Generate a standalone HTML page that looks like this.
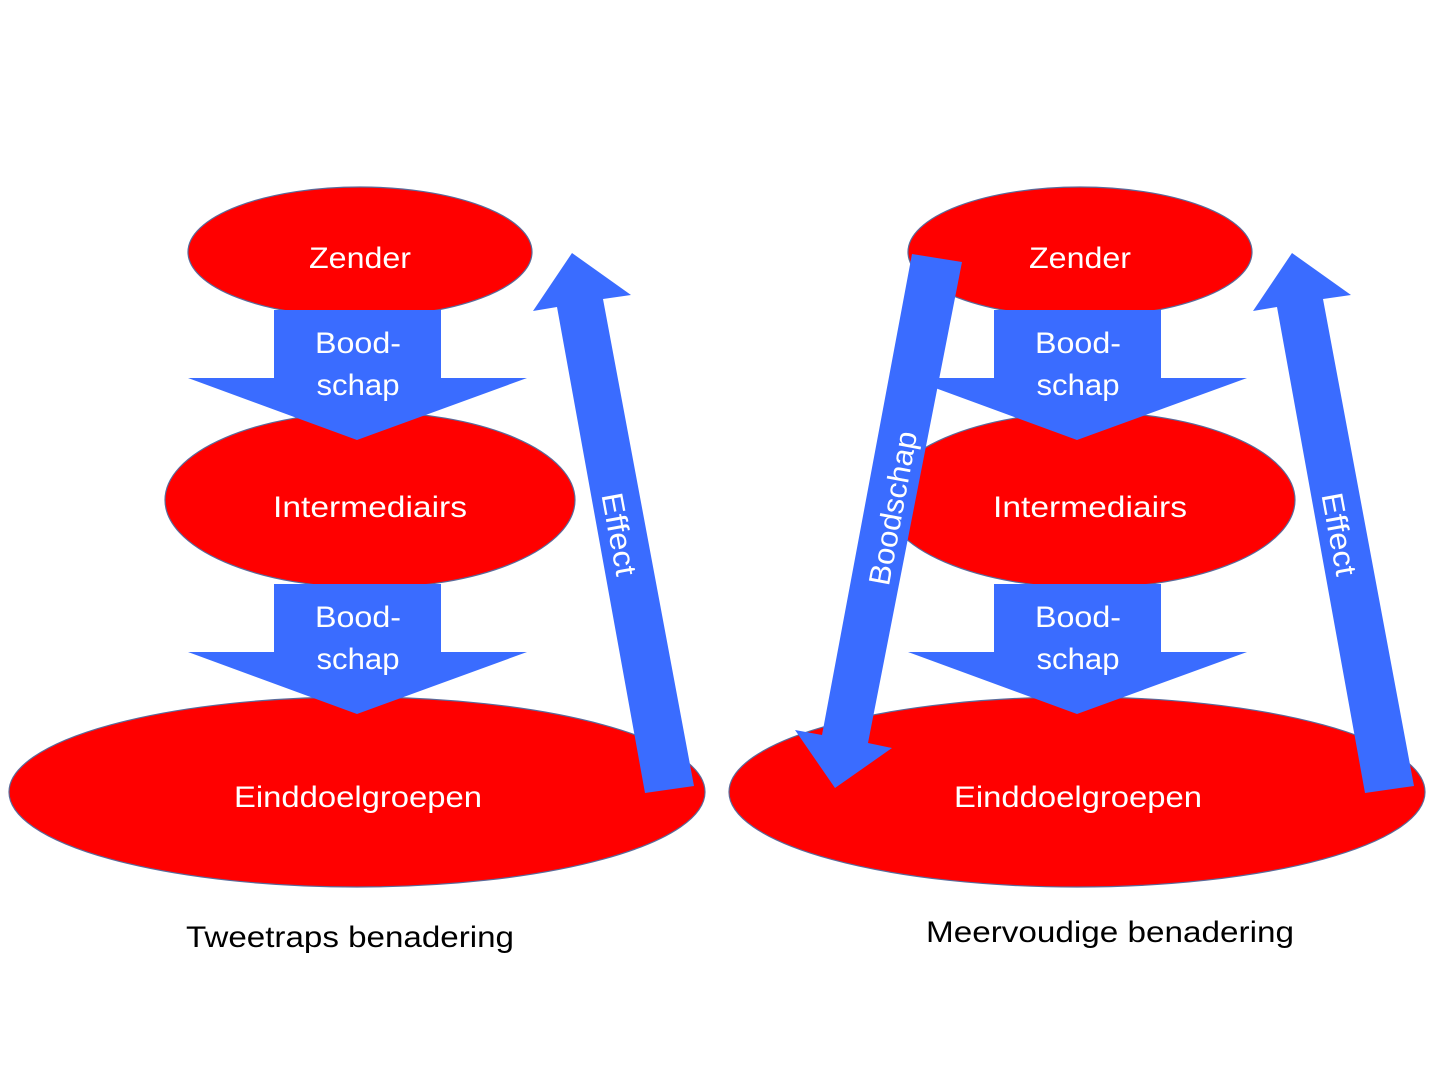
<!DOCTYPE html>
<html><head><meta charset="utf-8"><style>html,body{margin:0;padding:0;background:#fff}svg{display:block}</style></head>
<body>
<svg width="1440" height="1080" viewBox="0 0 1440 1080" xmlns="http://www.w3.org/2000/svg" font-family="Liberation Sans, DejaVu Sans, sans-serif">
<defs>
<g id="d">
  <ellipse cx="360" cy="252" rx="172" ry="65" fill="#ff0000" stroke="#5a6a9a" stroke-width="1.2"/>
  <ellipse cx="370" cy="500" rx="205" ry="88" fill="#ff0000" stroke="#5a6a9a" stroke-width="1.2"/>
  <ellipse cx="357" cy="792" rx="348" ry="95" fill="#ff0000" stroke="#5a6a9a" stroke-width="1.2"/>
  <polygon points="274,310 441,310 441,378 527,378 357,440 188,378 274,378" fill="#3a6cff"/>
  <polygon points="274,584 441,584 441,652 527,652 357,714 188,652 274,652" fill="#3a6cff"/>
  <g fill="#fff" font-size="30" text-anchor="middle" lengthAdjust="spacingAndGlyphs">
    <text x="360" y="268" textLength="102" lengthAdjust="spacingAndGlyphs">Zender</text>
    <text x="358" y="353" textLength="86" lengthAdjust="spacingAndGlyphs">Bood-</text>
    <text x="358" y="395" textLength="83" lengthAdjust="spacingAndGlyphs">schap</text>
    <text x="370" y="517" textLength="194" lengthAdjust="spacingAndGlyphs">Intermediairs</text>
    <text x="358" y="627" textLength="86" lengthAdjust="spacingAndGlyphs">Bood-</text>
    <text x="358" y="669" textLength="83" lengthAdjust="spacingAndGlyphs">schap</text>
    <text x="358" y="807" textLength="248" lengthAdjust="spacingAndGlyphs">Einddoelgroepen</text>
  </g>
  <polygon points="645,793 694,786 603,299 631,295 572,253 533,311 557,307" fill="#3a6cff"/>
  <text x="0" y="0" fill="#fff" font-size="30" text-anchor="middle" textLength="84" lengthAdjust="spacingAndGlyphs" transform="translate(609,536) rotate(79.5)">Effect</text>
</g>
</defs>
<use href="#d"/>
<use href="#d" transform="translate(720,0)"/>
<polygon points="912,254 962,262 868,743 892,748 835,788 795,730 822,735" fill="#3a6cff"/>
<text x="0" y="0" fill="#fff" font-size="30" text-anchor="middle" textLength="156" lengthAdjust="spacingAndGlyphs" transform="translate(903,510) rotate(-79.5)">Boodschap</text>
<text x="186" y="947" font-size="30" fill="#000" textLength="328" lengthAdjust="spacingAndGlyphs">Tweetraps benadering</text>
<text x="926" y="942" font-size="30" fill="#000" textLength="368" lengthAdjust="spacingAndGlyphs">Meervoudige benadering</text>
</svg>
</body></html>
